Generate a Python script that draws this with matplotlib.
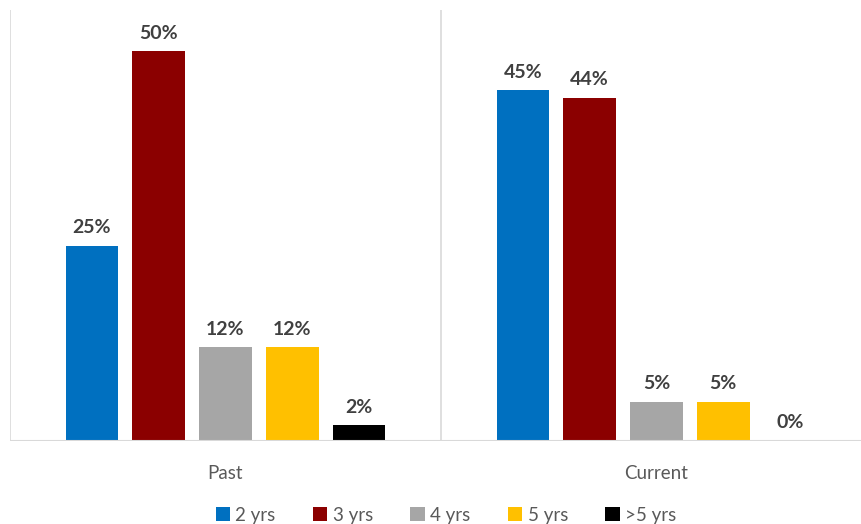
import matplotlib
matplotlib.use("Agg")
import matplotlib.pyplot as plt
import numpy as np

categories = ["Past", "Current"]
series = ["2 yrs", "3 yrs", "4 yrs", "5 yrs", ">5 yrs"]
values = {
    "2 yrs": [25, 45],
    "3 yrs": [50, 44],
    "4 yrs": [12, 5],
    "5 yrs": [12, 5],
    ">5 yrs": [2, 0],
}
colors = ["#0070C0", "#8B0000", "#A6A6A6", "#FFC000", "#000000"]

plt.rcParams["font.family"] = ["Lato", "DejaVu Sans"]

fig = plt.figure(figsize=(8.61, 5.24), dpi=100)
ax = fig.add_axes([10 / 861, 83 / 524, 862 / 861, 431 / 524])

x = np.arange(len(categories))
width = 0.122
step = 0.155
for i, (name, col) in enumerate(zip(series, colors)):
    pos = x + (i - 2) * step
    bars = ax.bar(pos, values[name], width=width, color=col, label=name, zorder=2)
    for b, v in zip(bars, values[name]):
        ax.annotate(f"{v}%", (b.get_x() + b.get_width() / 2, v),
                    xytext=(0, 7), textcoords="offset points",
                    ha="center", va="bottom", fontsize=14,
                    fontweight="bold", color="#404040")

ax.set_xlim(-0.5, 1.5)
ax.set_ylim(0, 55.3)
for xv in (-0.5, 0.5, 1.5):
    ax.axvline(xv, color="#D9D9D9", lw=1.2, zorder=1)
ax.axhline(0, color="#D9D9D9", lw=1.5, zorder=3)
for s in ax.spines.values():
    s.set_visible(False)
ax.set_yticks([])
ax.set_xticks(x)
ax.set_xticklabels(categories, fontsize=13.5, color="#595959")
ax.tick_params(axis="x", length=0, pad=17)

fig.legend(loc="center", bbox_to_anchor=(446 / 861, 9 / 524), ncol=5,
           frameon=False, fontsize=13.5, labelcolor="#595959",
           handlelength=0.75, handleheight=0.75, handletextpad=0.3,
           columnspacing=2.0)

fig.savefig("out.png", dpi=100)
